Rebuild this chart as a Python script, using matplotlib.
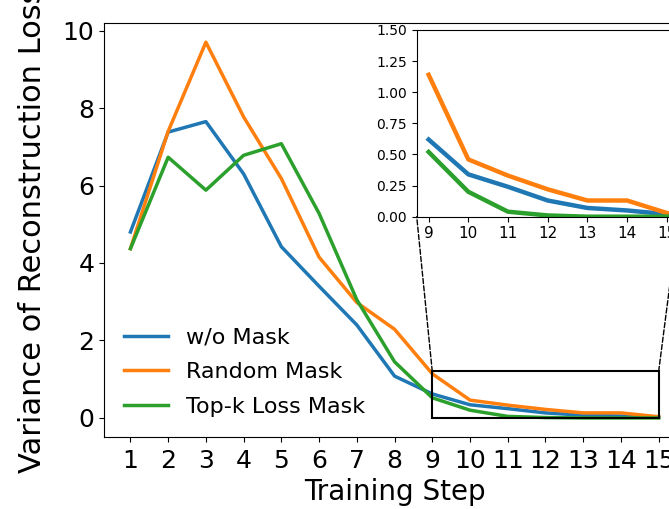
import matplotlib
matplotlib.use("Agg")
import matplotlib.pyplot as plt
from matplotlib.patches import Rectangle, ConnectionPatch

# Data
steps = list(range(1, 16))
wo_mask = [4.8, 7.38, 7.65, 6.3, 4.42, 3.4, 2.4, 1.08, 0.62, 0.34, 0.24, 0.13, 0.07, 0.05, 0.02]
random_mask = [4.37, 7.4, 9.7, 7.77, 6.18, 4.15, 2.98, 2.29, 1.14, 0.46, 0.33, 0.22, 0.13, 0.13, 0.03]
topk_mask = [4.37, 6.73, 5.88, 6.78, 7.08, 5.28, 3.05, 1.45, 0.52, 0.2, 0.04, 0.01, 0.0, 0.0, 0.0]

series = [
    ("w/o Mask", wo_mask, "#1f77b4"),
    ("Random Mask", random_mask, "#ff7f0e"),
    ("Top-k Loss Mask", topk_mask, "#2ca02c"),
]

zoom_x = (9, 15)
zoom_ymax = 1.2

fig = plt.figure(figsize=(6.69, 5.09), dpi=100)
# main axes deliberately run past the right edge, like the cropped original
ax = fig.add_axes([0.1555, 0.142, 0.8685, 0.812])

for label, vals, c in series:
    ax.plot(steps, vals, color=c, lw=2.5, label=label)

ax.set_xticks(steps)
ax.set_yticks([0, 2, 4, 6, 8, 10])
ax.tick_params(axis="both", labelsize=18)
ax.tick_params(axis="x", pad=5)
ax.set_xlabel("Training Step", fontsize=20, labelpad=4)
ax.set_ylabel("Variance of Reconstruction Loss", fontsize=22)
ax.yaxis.set_label_coords(-0.098, 0.5)
ax.legend(loc="lower left", frameon=False, fontsize=16, labelspacing=0.65)

# zoom box on the main axes
ax.add_patch(Rectangle((zoom_x[0], 0), zoom_x[1] - zoom_x[0], zoom_ymax,
                       fill=False, ec="black", lw=1.5, zorder=5))

# inset
axins = fig.add_axes([0.6229, 0.5743, 0.3915, 0.3668])
idx = [i for i, s in enumerate(steps) if zoom_x[0] <= s <= zoom_x[1]]
for label, vals, c in series:
    axins.plot([steps[i] for i in idx], [vals[i] for i in idx], color=c, lw=3.2)
axins.set_xticks(list(range(zoom_x[0], zoom_x[1] + 1)))
axins.set_ylim(0, 1.5)
axins.set_yticks([0, 0.25, 0.5, 0.75, 1.0, 1.25, 1.5])
axins.set_yticklabels(["0.00", "0.25", "0.50", "0.75", "1.00", "1.25", "1.50"])
axins.tick_params(axis="y", labelsize=10)
axins.tick_params(axis="x", labelsize=11)

# dashed connectors from box corners to inset bottom corners
x0, x1 = axins.get_xlim()
for xa, xb in [(zoom_x[0], x0), (zoom_x[1], x1)]:
    con = ConnectionPatch(xyA=(xa, zoom_ymax), coordsA=ax.transData,
                          xyB=(xb, 0), coordsB=axins.transData,
                          ls="--", lw=1.0, color="black")
    fig.add_artist(con)

fig.savefig("out.png", dpi=100)
